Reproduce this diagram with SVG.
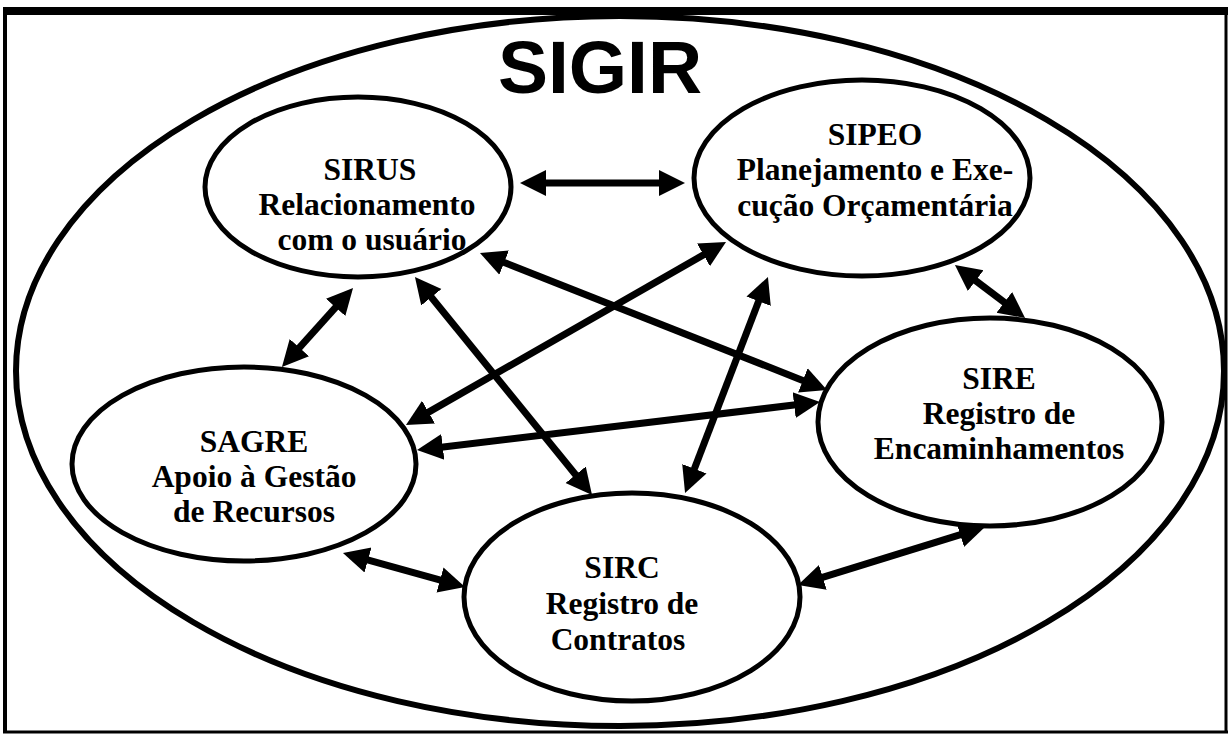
<svg xmlns="http://www.w3.org/2000/svg" width="1228" height="735" viewBox="0 0 1228 735">
<style>
.frame{fill:none;stroke:#000}
.node{fill:#fff;stroke:#000;stroke-width:5}
.lbl{font-family:"Liberation Serif","Times New Roman",serif;font-weight:bold;font-size:31.5px;fill:#000;text-anchor:middle}
.title{font-family:"Liberation Sans",Arial,sans-serif;font-weight:bold;font-size:75px;fill:#000;text-anchor:middle}
.conn line{stroke:#000;stroke-width:7;marker-start:url(#ah);marker-end:url(#ah)}
</style>
<defs>
<marker id="ah" markerUnits="userSpaceOnUse" markerWidth="30" markerHeight="30" viewBox="0 -15 30 30" refX="8" refY="0" orient="auto-start-reverse">
<path d="M0,-13 L26,0 L0,13 z" fill="#000"/>
</marker>
</defs>
<rect width="1228" height="735" fill="#fff"/>
<g id="frame">
<line x1="3" y1="11" x2="1228" y2="11" class="frame" stroke-width="8"/>
<line x1="5" y1="8" x2="5" y2="733" class="frame" stroke-width="4"/>
<line x1="3" y1="732" x2="1228" y2="732" class="frame" stroke-width="3"/>
<line x1="1226" y1="8" x2="1226" y2="733" class="frame" stroke-width="3"/>
</g>
<g id="SIGIR">
<ellipse cx="620" cy="371" rx="604" ry="355" fill="none" stroke="#000" stroke-width="6"/>
<text x="600" y="93" class="title">SIGIR</text>
</g>
<g id="connectors" class="conn">
<line x1="538" y1="183" x2="667" y2="183"/>
<line x1="496.7" y1="259.6" x2="810.3" y2="383.4"/>
<line x1="341" y1="301.4" x2="294" y2="353.6"/>
<line x1="426.3" y1="291" x2="580.7" y2="481"/>
<line x1="710.4" y1="250.9" x2="421.6" y2="416.1"/>
<line x1="761.5" y1="293.8" x2="691.5" y2="476.2"/>
<line x1="969.3" y1="275.9" x2="1010.7" y2="307.1"/>
<line x1="434.9" y1="447.9" x2="802.1" y2="404.1"/>
<line x1="360.3" y1="557.8" x2="447.7" y2="582.2"/>
<line x1="815.2" y1="579.7" x2="967.8" y2="532.3"/>
</g>
<g id="SIRUS">
<ellipse cx="358" cy="187" rx="153" ry="90" class="node" stroke-width="6"/>
<text class="lbl" x="370" y="180">SIRUS</text>
<text class="lbl" x="367" y="215">Relacionamento</text>
<text class="lbl" x="372" y="250">com o usuário</text>
</g>
<g id="SIPEO">
<ellipse cx="862" cy="178" rx="168" ry="98" class="node"/>
<text class="lbl" x="875" y="145">SIPEO</text>
<text class="lbl" x="875" y="180">Planejamento e Exe-</text>
<text class="lbl" x="875" y="216">cução Orçamentária</text>
</g>
<g id="SAGRE">
<ellipse cx="244" cy="464" rx="172" ry="97" class="node"/>
<text class="lbl" x="254" y="452">SAGRE</text>
<text class="lbl" x="254" y="487">Apoio à Gestão</text>
<text class="lbl" x="254" y="522">de Recursos</text>
</g>
<g id="SIRE">
<ellipse cx="990" cy="422" rx="172" ry="104" class="node"/>
<text class="lbl" x="999" y="389">SIRE</text>
<text class="lbl" x="999" y="424">Registro de</text>
<text class="lbl" x="999" y="459">Encaminhamentos</text>
</g>
<g id="SIRC">
<ellipse cx="632" cy="597" rx="168" ry="104" class="node"/>
<text class="lbl" x="622" y="578">SIRC</text>
<text class="lbl" x="622" y="614">Registro de</text>
<text class="lbl" x="618" y="650">Contratos</text>
</g>
</svg>
